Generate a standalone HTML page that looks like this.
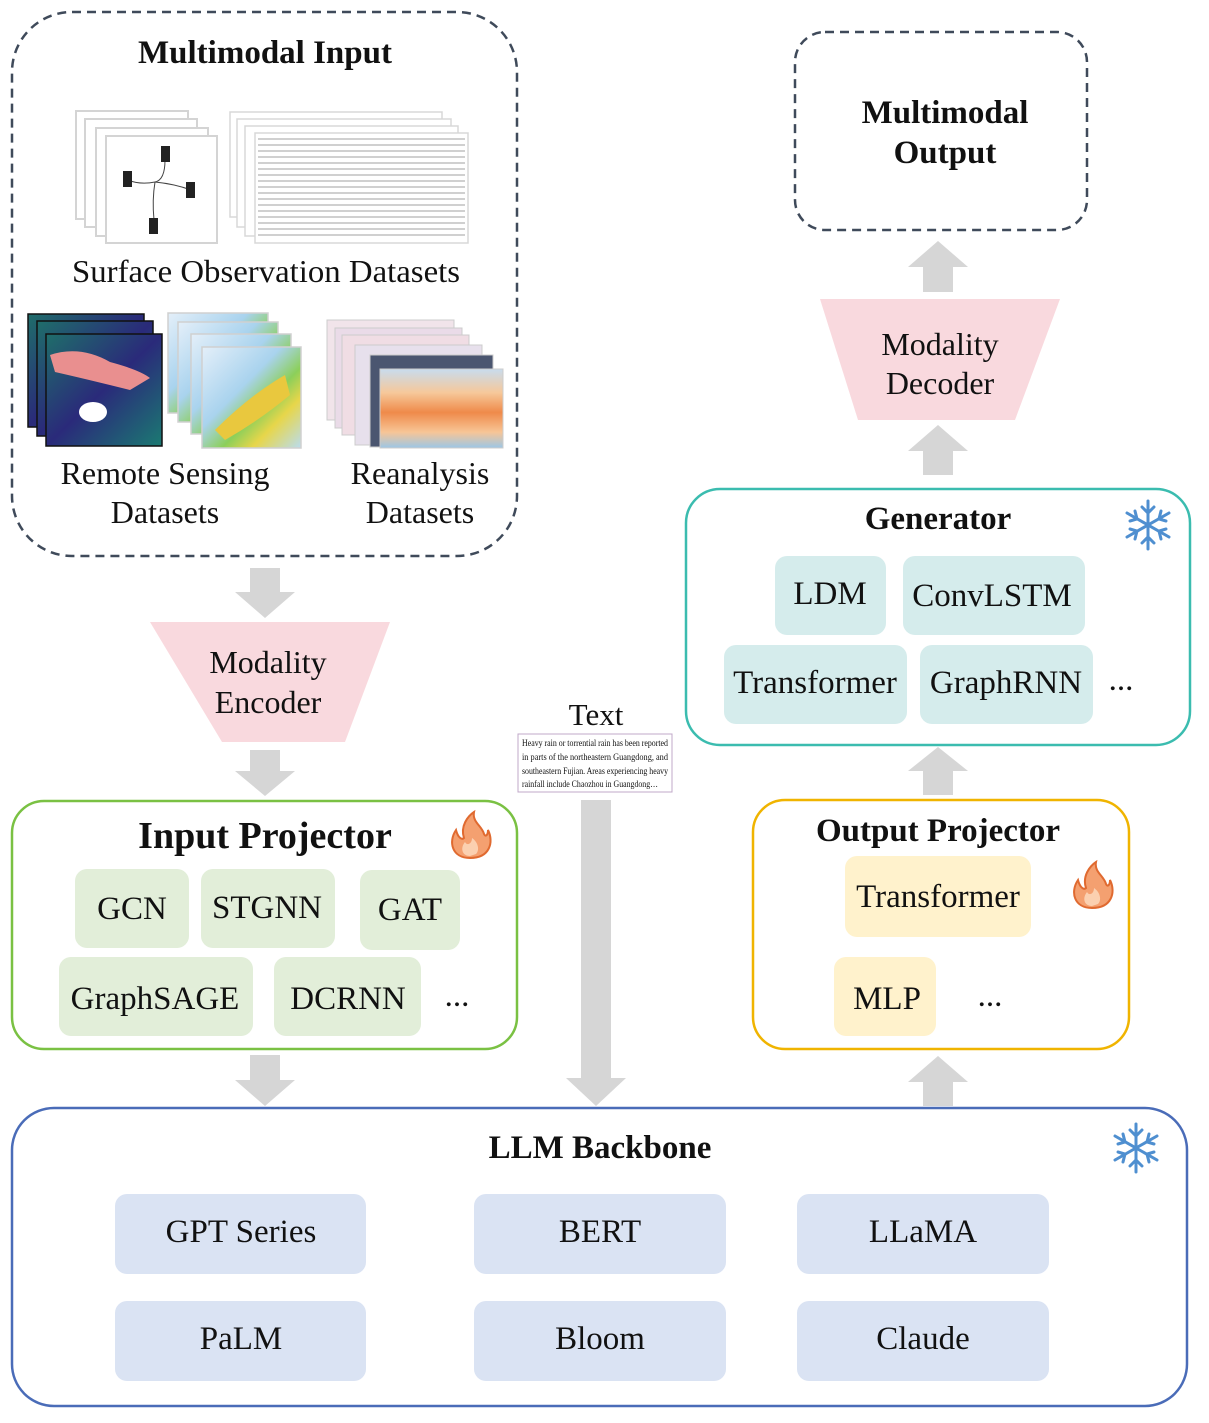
<!DOCTYPE html>
<html><head><meta charset="utf-8"><style>
html,body{margin:0;padding:0;background:#fff}
svg text{font-family:"Liberation Serif","Noto Serif CJK SC",serif;fill:#111}
</style></head><body>
<svg width="1209" height="1418" viewBox="0 0 1209 1418" xmlns="http://www.w3.org/2000/svg">
<defs>
<linearGradient id="sst" x1="0" y1="0" x2="0" y2="1">
<stop offset="0" stop-color="#c8dcee"/><stop offset="0.3" stop-color="#f6c89a"/><stop offset="0.55" stop-color="#ef8a4a"/><stop offset="0.8" stop-color="#f7c596"/><stop offset="1" stop-color="#9cc6e6"/></linearGradient>
<linearGradient id="rs" x1="0" y1="0" x2="1" y2="1">
<stop offset="0" stop-color="#1f6e6a"/><stop offset="0.5" stop-color="#2a2a7a"/><stop offset="1" stop-color="#1b7a72"/></linearGradient>
<linearGradient id="rad" x1="0" y1="0" x2="1" y2="1">
<stop offset="0" stop-color="#e4eff9"/><stop offset="0.4" stop-color="#a9d3ee"/><stop offset="0.6" stop-color="#8ccf5a"/><stop offset="0.75" stop-color="#e7d64a"/><stop offset="1" stop-color="#b9dcef"/></linearGradient>
<g id="snow" stroke="#4f8fd0" stroke-width="3" fill="none" stroke-linecap="round">
<line x1="0" y1="-24" x2="0" y2="24"/><line x1="-21" y1="-12" x2="21" y2="12"/><line x1="-21" y1="12" x2="21" y2="-12"/>
<path d="M-6 -18 L0 -12 L6 -18 M-6 18 L0 12 L6 18 M-18 -4 L-11 -6 L-13 -14 M18 4 L11 6 L13 14 M-18 4 L-11 6 L-13 14 M18 -4 L11 -6 L13 -14"/>
</g>
<g id="fire"><path d="M0 22 C-18 22 -22 6 -14 -6 C-12 2 -8 4 -6 2 C-10 -10 -2 -20 4 -24 C2 -14 12 -10 14 -2 C16 2 18 -2 18 -6 C24 6 20 22 0 22 Z" fill="#f4a070" stroke="#e06a30" stroke-width="2"/><path d="M0 20 C-8 20 -10 12 -5 6 C-3 10 2 8 2 2 C8 6 10 14 6 18 Z" fill="#fbd0b0"/></g>
</defs>

<rect x="12" y="12" width="505" height="544" rx="60" fill="none" stroke="#3f4a5a" stroke-width="2.5" stroke-dasharray="9,6"/>
<text x="265" y="63" font-size="33" font-weight="bold" text-anchor="middle">Multimodal Input</text>

<g fill="#fff" stroke="#d4d4d4" stroke-width="2">
<rect x="76" y="111" width="112" height="108"/><rect x="85" y="119" width="112" height="108"/><rect x="96" y="128" width="112" height="108"/><rect x="106" y="136" width="111" height="107"/>
</g>
<g stroke="#444" stroke-width="1" fill="none"><path d="M165 160 Q165 180 155 182 Q140 185 128 180 M155 182 Q175 184 191 190 M155 182 Q152 200 154 220"/></g>
<g fill="#222"><rect x="161" y="146" width="9" height="16"/><rect x="123" y="171" width="9" height="16"/><rect x="186" y="182" width="9" height="16"/><rect x="149" y="218" width="9" height="16"/></g>
<g fill="#fff" stroke="#d8d8d8" stroke-width="1.5">
<rect x="230" y="112" width="212" height="105"/><rect x="237" y="119" width="214" height="108"/><rect x="245" y="126" width="213" height="110"/><rect x="255" y="133" width="213" height="110"/>
</g>
<g stroke="#b5b5b5" stroke-width="1.2">
<line x1="258" y1="139" x2="465" y2="139"/><line x1="258" y1="145" x2="465" y2="145"/><line x1="258" y1="151" x2="465" y2="151"/><line x1="258" y1="157" x2="465" y2="157"/><line x1="258" y1="163" x2="465" y2="163"/><line x1="258" y1="169" x2="465" y2="169"/><line x1="258" y1="175" x2="465" y2="175"/><line x1="258" y1="181" x2="465" y2="181"/><line x1="258" y1="187" x2="465" y2="187"/><line x1="258" y1="193" x2="465" y2="193"/><line x1="258" y1="199" x2="465" y2="199"/><line x1="258" y1="205" x2="465" y2="205"/><line x1="258" y1="211" x2="465" y2="211"/><line x1="258" y1="217" x2="465" y2="217"/><line x1="258" y1="223" x2="465" y2="223"/><line x1="258" y1="229" x2="465" y2="229"/><line x1="258" y1="235" x2="465" y2="235"/>
</g>
<text x="266" y="282" font-size="32" text-anchor="middle" textLength="388" lengthAdjust="spacingAndGlyphs">Surface Observation Datasets</text>

<g stroke="#111" stroke-width="1.5">
<rect x="28" y="314" width="116" height="113" fill="url(#rs)"/><rect x="37" y="321" width="116" height="115" fill="url(#rs)"/><rect x="46" y="334" width="116" height="112" fill="url(#rs)"/>
</g>
<path d="M50 355 Q80 345 110 362 Q140 370 150 378 L130 390 Q90 380 55 372 Z" fill="#e98f8f"/>
<ellipse cx="93" cy="412" rx="14" ry="10" fill="#fff"/>
<g stroke="#d0d0d0" stroke-width="1.5">
<rect x="168" y="313" width="100" height="100" fill="url(#rad)"/><rect x="178" y="322" width="100" height="100" fill="url(#rad)"/><rect x="191" y="334" width="100" height="100" fill="url(#rad)"/><rect x="202" y="347" width="99" height="101" fill="url(#rad)"/>
</g>
<path d="M215 430 Q250 395 285 375 L290 395 Q260 420 225 440 Z" fill="#e9c83e"/>
<g stroke="#ccc" stroke-width="1">
<rect x="327" y="320" width="127" height="100" fill="#f1e4ea"/><rect x="335" y="328" width="127" height="100" fill="#eadbe8"/><rect x="342" y="335" width="127" height="100" fill="#f0dde4"/><rect x="355" y="345" width="127" height="100" fill="#e7e0ec"/><rect x="370" y="355" width="123" height="92" fill="#4b5670"/><rect x="380" y="369" width="123" height="79" fill="url(#sst)"/>
</g>
<text x="165" y="484" font-size="32" text-anchor="middle">Remote Sensing</text>
<text x="165" y="523" font-size="32" text-anchor="middle">Datasets</text>
<text x="420" y="484" font-size="32" text-anchor="middle">Reanalysis</text>
<text x="420" y="523" font-size="32" text-anchor="middle">Datasets</text>

<g fill="#d6d6d6">
<path d="M250 568 H280 V592 H295 L265 618 L235 592 H250 Z"/>
<path d="M250 750 H280 V771 H295 L265 796 L235 771 H250 Z"/>
<path d="M250 1055 H280 V1080 H295 L265 1106 L235 1080 H250 Z"/>
<path d="M581 800 H611 V1078 H626 L596 1106 L566 1078 H581 Z"/>
<path d="M923 1106 H953 V1082 H968 L938 1056 L908 1082 H923 Z"/>
<path d="M923 795 H953 V771 H968 L938 747 L908 771 H923 Z"/>
<path d="M923 475 H953 V451 H968 L938 425 L908 451 H923 Z"/>
<path d="M923 292 H953 V267 H968 L938 241 L908 267 H923 Z"/>
</g>

<path d="M150 622 H390 L345 742 H222 Z" fill="#f9d9de"/>
<text x="268" y="673" font-size="32" text-anchor="middle">Modality</text>
<text x="268" y="713" font-size="32" text-anchor="middle">Encoder</text>

<rect x="12" y="801" width="505" height="248" rx="32" fill="#fff" stroke="#7ac143" stroke-width="2.5"/>
<text x="265" y="848" font-size="38" font-weight="bold" text-anchor="middle">Input Projector</text>
<use href="#fire" x="470" y="836"/>
<g fill="#e2eed9">
<rect x="75" y="869" width="114" height="79" rx="12"/><rect x="201" y="869" width="134" height="79" rx="12"/><rect x="360" y="870" width="100" height="80" rx="12"/>
<rect x="59" y="957" width="194" height="79" rx="12"/><rect x="274" y="957" width="147" height="79" rx="12"/>
</g>
<g font-size="33" text-anchor="middle">
<text x="132" y="919">GCN</text><text x="267" y="918">STGNN</text><text x="410" y="920">GAT</text>
<text x="155" y="1009">GraphSAGE</text><text x="348" y="1009">DCRNN</text><text x="457" y="1006">...</text>
</g>

<text x="596" y="725" font-size="31" text-anchor="middle">Text</text>
<rect x="518" y="734" width="154" height="58" fill="#fff" stroke="#c0a8c8" stroke-width="1"/>
<g font-size="9.3">
<text x="522" y="746" textLength="146" lengthAdjust="spacingAndGlyphs">Heavy rain or torrential rain has been reported</text>
<text x="522" y="760" textLength="146" lengthAdjust="spacingAndGlyphs">in parts of the northeastern Guangdong, and</text>
<text x="522" y="774" textLength="146" lengthAdjust="spacingAndGlyphs">southeastern Fujian. Areas experiencing heavy</text>
<text x="522" y="787" textLength="136" lengthAdjust="spacingAndGlyphs">rainfall include Chaozhou in Guangdong…</text>
</g>

<rect x="12" y="1108" width="1175" height="298" rx="42" fill="none" stroke="#4a6cb8" stroke-width="2.5"/>
<text x="600" y="1158" font-size="33" font-weight="bold" text-anchor="middle">LLM Backbone</text>
<use href="#snow" x="1136" y="1148"/>
<g fill="#dae3f3">
<rect x="115" y="1194" width="251" height="80" rx="12"/><rect x="474" y="1194" width="252" height="80" rx="12"/><rect x="797" y="1194" width="252" height="80" rx="12"/>
<rect x="115" y="1301" width="251" height="80" rx="12"/><rect x="474" y="1301" width="252" height="80" rx="12"/><rect x="797" y="1301" width="252" height="80" rx="12"/>
</g>
<g font-size="33" text-anchor="middle">
<text x="241" y="1242">GPT Series</text><text x="600" y="1242">BERT</text><text x="923" y="1242">LLaMA</text>
<text x="241" y="1349">PaLM</text><text x="600" y="1349">Bloom</text><text x="923" y="1349">Claude</text>
</g>

<rect x="753" y="800" width="376" height="249" rx="32" fill="#fff" stroke="#f0b400" stroke-width="2.5"/>
<text x="938" y="841" font-size="33" font-weight="bold" text-anchor="middle">Output Projector</text>
<use href="#fire" x="1092" y="886"/>
<g fill="#fff2cc"><rect x="845" y="856" width="186" height="81" rx="12"/><rect x="834" y="957" width="102" height="79" rx="12"/></g>
<g font-size="33" text-anchor="middle"><text x="938" y="907">Transformer</text><text x="887" y="1009">MLP</text><text x="990" y="1006">...</text></g>

<rect x="686" y="489" width="504" height="256" rx="34" fill="#fff" stroke="#3bbcaf" stroke-width="2.5"/>
<text x="938" y="529" font-size="33" font-weight="bold" text-anchor="middle">Generator</text>
<use href="#snow" x="1148" y="525"/>
<g fill="#d5ecec">
<rect x="775" y="556" width="111" height="79" rx="12"/><rect x="903" y="556" width="182" height="79" rx="12"/>
<rect x="724" y="645" width="183" height="79" rx="12"/><rect x="920" y="645" width="173" height="79" rx="12"/>
</g>
<g font-size="33" text-anchor="middle">
<text x="830" y="604">LDM</text><text x="992" y="606">ConvLSTM</text>
<text x="815" y="693">Transformer</text><text x="1006" y="693">GraphRNN</text><text x="1121" y="690">...</text>
</g>

<path d="M820 299 H1060 L1015 420 H858 Z" fill="#f9d9de"/>
<text x="940" y="355" font-size="32" text-anchor="middle">Modality</text>
<text x="940" y="394" font-size="32" text-anchor="middle">Decoder</text>

<rect x="795" y="32" width="292" height="198" rx="30" fill="none" stroke="#3f4a5a" stroke-width="2.5" stroke-dasharray="9,6"/>
<text x="945" y="123" font-size="33" font-weight="bold" text-anchor="middle">Multimodal</text>
<text x="945" y="163" font-size="33" font-weight="bold" text-anchor="middle">Output</text>
</svg>
</body></html>
